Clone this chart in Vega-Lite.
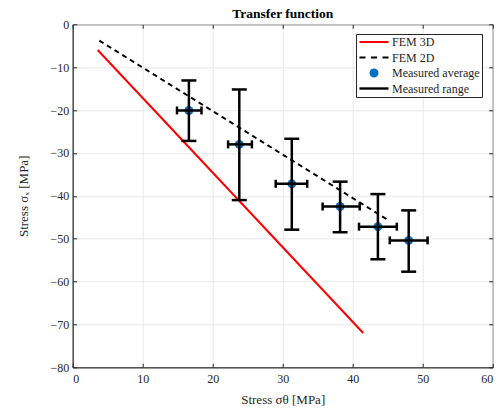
{
  "$schema": "https://vega.github.io/schema/vega-lite/v6.json",
  "autosize": {"type": "none"},
  "padding": {"left": 72.7, "top": 24.3, "right": 9.3, "bottom": 46.7},
  "width": 420,
  "height": 343,
  "title": {"text": "Transfer function", "font": "Liberation Serif", "fontSize": 13.5, "fontWeight": "bold", "color": "black", "offset": -2, "anchor": "middle"},
  "datasets": {
    "lines": [
      {"series": "FEM 3D", "x": 3.57, "y": -6.0},
      {"series": "FEM 3D", "x": 41.5, "y": -72.0},
      {"series": "FEM 2D", "x": 3.8, "y": -3.8},
      {"series": "FEM 2D", "x": 45.3, "y": -45.9}
    ],
    "pts": [
      {"sx": 16.6, "sy": -20.1, "xmin": 14.9, "xmax": 18.4, "ymin": -27.2, "ymax": -13.1},
      {"sx": 23.8, "sy": -28.0, "xmin": 22.2, "xmax": 25.6, "ymin": -41.0, "ymax": -15.2},
      {"sx": 31.3, "sy": -37.2, "xmin": 29.0, "xmax": 33.5, "ymin": -47.9, "ymax": -26.7},
      {"sx": 38.2, "sy": -42.5, "xmin": 35.7, "xmax": 41.0, "ymin": -48.5, "ymax": -36.7},
      {"sx": 43.6, "sy": -47.2, "xmin": 40.9, "xmax": 46.3, "ymin": -54.8, "ymax": -39.6},
      {"sx": 48.0, "sy": -50.4, "xmin": 45.3, "xmax": 50.7, "ymin": -57.7, "ymax": -43.4}
    ]
  },
  "config": {
    "font": "Liberation Serif",
    "view": {"stroke": "#262626", "strokeWidth": 1},
    "axis": {
      "labelFont": "Liberation Serif", "labelFontSize": 12, "labelColor": "#262626",
      "titleFont": "Liberation Serif", "titleFontSize": 13, "titleFontWeight": "normal", "titleColor": "#262626",
      "gridColor": "#e8e8e8", "domainColor": "#262626", "tickColor": "#262626", "tickSize": -4
    },
    "legend": {
      "orient": "none", "legendX": 283.3, "legendY": 9.7,
      "strokeColor": "#262626", "fillColor": "white", "padding": 2,
      "labelFont": "Liberation Serif", "labelFontSize": 12, "labelColor": "#262626",
      "symbolSize": 64, "symbolOpacity": 1, "symbolStrokeWidth": 0, "rowPadding": 3.5, "labelOffset": 22
    }
  },
  "layer": [
    {
      "layer": [
        {
          "data": {"name": "lines"},
          "transform": [{"filter": "datum.series === 'FEM 3D'"}],
          "mark": {"type": "line", "strokeWidth": 2, "opacity": 1, "color": "#ff0000"},
          "encoding": {
            "x": {"field": "x", "type": "quantitative", "scale": {"domain": [0, 60], "nice": false},
                  "axis": {"values": [0, 10, 20, 30, 40, 50, 60], "title": "Stress σθ [MPa]", "labelPadding": 10, "titlePadding": 9, "grid": true}},
            "y": {"field": "y", "type": "quantitative", "scale": {"domain": [-80, 0], "nice": false},
                  "axis": {"values": [-80, -70, -60, -50, -40, -30, -20, -10, 0], "title": "Stress σₓ [MPa]", "labelPadding": 8, "titlePadding": 19, "grid": true}}
          }
        },
        {
          "data": {"name": "lines"},
          "transform": [{"filter": "datum.series === 'FEM 2D'"}],
          "mark": {"type": "line", "strokeWidth": 2, "opacity": 1, "color": "black", "strokeDash": [5, 4]},
          "encoding": {
            "x": {"field": "x", "type": "quantitative"},
            "y": {"field": "y", "type": "quantitative"}
          }
        },
        {
          "data": {"name": "lines"},
          "mark": {"type": "point", "filled": true, "opacity": 0},
          "encoding": {
            "x": {"field": "x", "type": "quantitative"},
            "y": {"field": "y", "type": "quantitative"},
            "color": {"field": "series", "type": "nominal",
                      "scale": {"domain": ["FEM 3D", "FEM 2D", "Measured average", "Measured range"], "range": ["#ff0000", "black", "#0072BD", "black"]},
                      "legend": {"title": null}},
            "shape": {"field": "series", "type": "nominal",
                      "scale": {"domain": ["FEM 3D", "FEM 2D", "Measured average", "Measured range"],
                                "range": [
                                  "M-1.125,-0.25H6.125V0.25H-1.125Z",
                                  "M-1.125,-0.25H0.375V0.25H-1.125Z M1.75,-0.25H3.25V0.25H1.75Z M4.625,-0.25H6.125V0.25H4.625Z",
                                  "M1.375,0A1.125,1.125,0,1,0,3.625,0A1.125,1.125,0,1,0,1.375,0Z",
                                  "M-1.125,-0.3H6.125V0.3H-1.125Z"
                                ]},
                      "legend": {"title": null}}
          }
        },
        {
          "data": {"name": "pts"},
          "mark": {"type": "point", "filled": true, "size": 80, "opacity": 1, "color": "#0072BD"},
          "encoding": {
            "x": {"field": "sx", "type": "quantitative"},
            "y": {"field": "sy", "type": "quantitative"}
          }
        },
        {
          "data": {"name": "pts"},
          "mark": {"type": "rule", "strokeWidth": 2.5, "opacity": 1, "color": "black"},
          "encoding": {
            "x": {"field": "sx", "type": "quantitative"},
            "y": {"field": "ymin", "type": "quantitative"},
            "y2": {"field": "ymax"}
          }
        },
        {
          "data": {"name": "pts"},
          "mark": {"type": "rule", "strokeWidth": 2.5, "opacity": 1, "color": "black"},
          "encoding": {
            "y": {"field": "sy", "type": "quantitative"},
            "x": {"field": "xmin", "type": "quantitative"},
            "x2": {"field": "xmax"}
          }
        },
        {
          "data": {"name": "pts"},
          "mark": {"type": "tick", "orient": "horizontal", "size": 15, "thickness": 2.5, "opacity": 1, "color": "black"},
          "encoding": {
            "x": {"field": "sx", "type": "quantitative"},
            "y": {"field": "ymin", "type": "quantitative"}
          }
        },
        {
          "data": {"name": "pts"},
          "mark": {"type": "tick", "orient": "horizontal", "size": 15, "thickness": 2.5, "opacity": 1, "color": "black"},
          "encoding": {
            "x": {"field": "sx", "type": "quantitative"},
            "y": {"field": "ymax", "type": "quantitative"}
          }
        },
        {
          "data": {"name": "pts"},
          "mark": {"type": "tick", "orient": "vertical", "size": 8, "thickness": 2.5, "opacity": 1, "color": "black"},
          "encoding": {
            "x": {"field": "xmin", "type": "quantitative"},
            "y": {"field": "sy", "type": "quantitative"}
          }
        },
        {
          "data": {"name": "pts"},
          "mark": {"type": "tick", "orient": "vertical", "size": 8, "thickness": 2.5, "opacity": 1, "color": "black"},
          "encoding": {
            "x": {"field": "xmax", "type": "quantitative"},
            "y": {"field": "sy", "type": "quantitative"}
          }
        }
      ]
    },
    {
      "data": {"name": "lines"},
      "mark": {"type": "point", "opacity": 0},
      "encoding": {
        "x": {"field": "x", "type": "quantitative", "scale": {"domain": [0, 60], "nice": false},
              "axis": {"orient": "top", "values": [0, 10, 20, 30, 40, 50, 60], "labels": false, "title": null, "grid": false, "domain": false}},
        "y": {"field": "y", "type": "quantitative", "scale": {"domain": [-80, 0], "nice": false},
              "axis": {"orient": "right", "values": [-80, -70, -60, -50, -40, -30, -20, -10, 0], "labels": false, "title": null, "grid": false, "domain": false}}
      }
    }
  ],
  "resolve": {"axis": {"x": "independent", "y": "independent"}}
}
